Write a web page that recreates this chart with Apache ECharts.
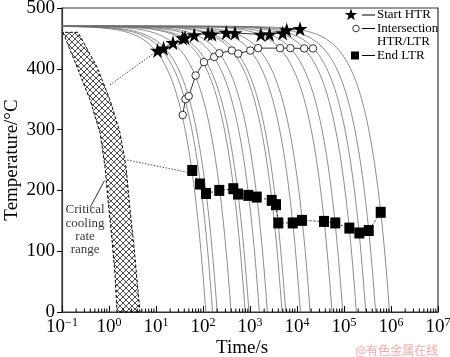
<!DOCTYPE html>
<html><head><meta charset="utf-8">
<script src="https://cdn.jsdelivr.net/npm/echarts@6/dist/echarts.min.js"></script>
<style>html,body{margin:0;padding:0;background:#fff}#c{width:450px;height:357px}</style>
</head><body><div id="c"></div>
<script>
// ---------------- data ----------------
const startTemp = 470; // °C, start of every cooling curve
// time (s) at which each constant-rate cooling curve reaches 0 °C
const coolingEndTimes = [115, 160, 200, 395, 790, 950, 1580, 2340, 4800, 5750, 11800, 19000, 55500, 94000, 183000, 290000, 470000, 930000];
const startHTR = [[10.8,430],[14.5,434],[23,443],[37,450.6],[41.6,451.5],[65,455.6],[128,458],[155,457],[313,459.7],[480,459],[1700,456.5],[2600,457],[4960,459],[6040,464],[11600,466]];
const intersection = [[37,324],[42.4,350],[49.7,355],[69.7,389],[105,411],[173,419.5],[223,425.6],[411,430],[561,425],[1015,430],[1490,434],[4355,434],[7230,434],[14200,433.5],[21900,433.5]];
const endLTR = [[59,232.8],[86,210.5],[116,195],[222,200],[441,202.8],[556,194],[920,191.8],[1390,189],[2900,183.6],[3570,176.5],[4000,146.5],[8100,146.5],[12800,150.7],[37500,149],[65300,146.5],[130000,138],[212000,130],[336000,134],[604000,164]];
const hatchLeft = [[0.105,460],[0.2085,403],[0.394,349],[0.644,295],[0.822,239],[0.952,185],[1.158,119],[1.342,62],[1.48,0]];
const hatchRight = [[0.219,460],[0.556,403],[1.05,349],[1.714,295],[2.30,239],[2.80,168],[3.40,108],[3.94,53],[4.57,0]];
const leaderToStar = [[1.05,373.5],[10.8,430]];
const leaderToSquare = [[2.45,250],[45,230]];
const labelPointer = [[0.394,171.6],[0.8,216]];
const annotationPos = [0.31,135];
const annotationText = 'Critical\ncooling\nrate\nrange';
const xDecades = [-1,0,1,2,3,4,5,6,7];
const yTicks = [0,100,200,300,400,500];
const legendNames = ['Start HTR', 'Intersection', 'HTR/LTR', 'End LTR'];
const xName = 'Time/s', yName = 'Temperature/°C';
const watermark = '@有色金属在线';

// ---------------- helpers ----------------
function coolingCurve(tEnd){
  const pts=[]; const a=-1, b=Math.log10(tEnd); const n=260;
  for(let i=0;i<=n;i++){ const t=Math.pow(10,a+(b-a)*i/n); pts.push([t, startTemp*(1-t/tEnd)]); }
  return pts;
}
const minorTicks=[];
for(let k=xDecades[0];k<xDecades[xDecades.length-1];k++) for(let m=2;m<=9;m++) minorTicks.push([m*Math.pow(10,k),0]);

const pc=document.createElement('canvas'); pc.width=6; pc.height=6;
const g=pc.getContext('2d'); g.strokeStyle='#000'; g.lineWidth=0.7;
g.beginPath(); g.moveTo(0,0); g.lineTo(6,6); g.moveTo(6,0); g.lineTo(0,6); g.stroke();

const FONT='Liberation Serif';
const STAR='path://M50,0 L61,35 L98,35 L68,57 L79,91 L50,70 L21,91 L32,57 L2,35 L39,35 Z';
function starPts(cx,cy,R){const p=[];for(let i=0;i<10;i++){const r=i%2?R*0.4:R;const a=-Math.PI/2+i*Math.PI/5;p.push([cx+r*Math.cos(a),cy+r*Math.sin(a)]);}return p;}

const series=[];
series.push({type:'custom', z:1, data:[[1,100]], renderItem:(p,api)=>{
  const pts=hatchLeft.map(d=>api.coord(d)).concat(hatchRight.slice().reverse().map(d=>api.coord(d)));
  return {type:'polygon', shape:{points:pts}, style:{fill:{image:pc,repeat:'repeat'}, stroke:'#000', lineWidth:1, lineDash:[3,2]}};
}});
coolingEndTimes.forEach(te=>series.push({type:'line', data:coolingCurve(te), showSymbol:false, symbol:'none', silent:true, z:2,
  lineStyle:{color:'#707070', width:0.8}}));
[leaderToStar, leaderToSquare].forEach(d=>series.push({type:'line', data:d, symbol:'none', z:3, lineStyle:{color:'#222', width:0.8, type:[1.5,1.5]}}));
series.push({type:'line', data:labelPointer, symbol:'none', z:3, lineStyle:{color:'#000', width:0.8}});
series.push({type:'line', name:legendNames[0], data:startHTR, symbol:STAR, symbolSize:15, z:5, itemStyle:{color:'#000'}, lineStyle:{color:'#000', width:0.8}});
series.push({type:'line', name:legendNames[1], data:intersection, symbol:'circle', symbolSize:7.5, z:5, itemStyle:{color:'#fff', borderColor:'#000', borderWidth:0.8}, lineStyle:{color:'#000', width:0.8}});
series.push({type:'line', name:legendNames[3], data:endLTR, symbol:'rect', symbolSize:[10,11], z:5, itemStyle:{color:'#000'}, lineStyle:{color:'#000', width:0.8, type:[2,2]}});
series.push({type:'custom', z:6, data:minorTicks, clip:false, renderItem:(p,api)=>{
  const c=api.coord([api.value(0),api.value(1)]);
  return {type:'line', shape:{x1:c[0],y1:c[1],x2:c[0],y2:c[1]-3.5}, style:{stroke:'#000', lineWidth:1}};
}});
series.push({type:'scatter', data:[annotationPos], symbol:'circle', symbolSize:1, itemStyle:{color:'rgba(0,0,0,0)'}, z:6,
  label:{show:true, position:'inside', formatter:annotationText,
  fontFamily:FONT, fontSize:13, lineHeight:13.3, color:'#000', align:'center', verticalAlign:'middle'}});

const lx=351, lineX1=362, lineX2=375, tx=377;
const ly=[15,28.5,42,55.5];
const tstyle=(t,y)=>({type:'text', x:tx, y:y, style:{text:t, font:'13px "Liberation Serif"', fill:'#000', verticalAlign:'middle'}});
const dash=(y)=>({type:'line', shape:{x1:lineX1,y1:y,x2:lineX2,y2:y}, style:{stroke:'#000', lineWidth:1}});

const chart=echarts.init(document.getElementById('c'),null,{renderer:'canvas'});
chart.setOption({
  animation:false, backgroundColor:'#fff',
  grid:{left:62, right:12, top:8, bottom:45, outerBoundsMode:'none', containLabel:false, show:true, borderColor:'#333', borderWidth:1.2},
  xAxis:{type:'log', logBase:10, min:Math.pow(10,xDecades[0]), max:Math.pow(10,xDecades[xDecades.length-1]), splitNumber:8,
    name:xName, nameLocation:'middle', nameGap:27, nameMoveOverlap:false, nameTextStyle:{fontFamily:FONT, fontSize:19, color:'#000', padding:[0,16,0,0]},
    axisLine:{lineStyle:{color:'#333', width:1.2}}, axisTick:{inside:true, length:6, lineStyle:{color:'#000'}},
    splitLine:{show:false},
    axisLabel:{margin:5, color:'#000', formatter:v=>{const e=Math.round(Math.log10(v));return '{b|10}{s|'+(e<0?'−'+(-e):e)+'}';},
      rich:{b:{fontFamily:FONT, fontSize:19, lineHeight:20, color:'#000'}, s:{fontFamily:FONT, fontSize:12, lineHeight:20, verticalAlign:'top', color:'#000'}}}},
  yAxis:{type:'value', min:yTicks[0], max:yTicks[yTicks.length-1], interval:100,
    name:yName, nameLocation:'middle', nameGap:40, nameMoveOverlap:false, nameTextStyle:{fontFamily:FONT, fontSize:19, color:'#000'},
    axisLine:{show:true, lineStyle:{color:'#333', width:1.2}}, axisTick:{show:true, length:5, lineStyle:{color:'#000'}},
    splitLine:{show:false}, axisLabel:{margin:7, fontFamily:FONT, fontSize:19, color:'#000'}},
  series:series,
  graphic:[
    {type:'polygon', shape:{points:starPts(lx,ly[0],6.5)}, style:{fill:'#000'}},
    dash(ly[0]), tstyle(legendNames[0],ly[0]),
    {type:'circle', shape:{cx:lx+5,cy:ly[1],r:3.3}, style:{fill:'#fff', stroke:'#000', lineWidth:0.8}},
    dash(ly[1]), tstyle(legendNames[1],ly[1]), tstyle(legendNames[2],ly[2]),
    {type:'rect', shape:{x:lx,y:ly[3]-4,width:8,height:8}, style:{fill:'#000'}},
    dash(ly[3]), tstyle(legendNames[3],ly[3]),
    {type:'text', x:355, y:350, style:{text:watermark, font:'12px "Noto Sans CJK SC"', fill:'#f2a9a9', verticalAlign:'middle'}}
  ]
});
</script></body></html>
